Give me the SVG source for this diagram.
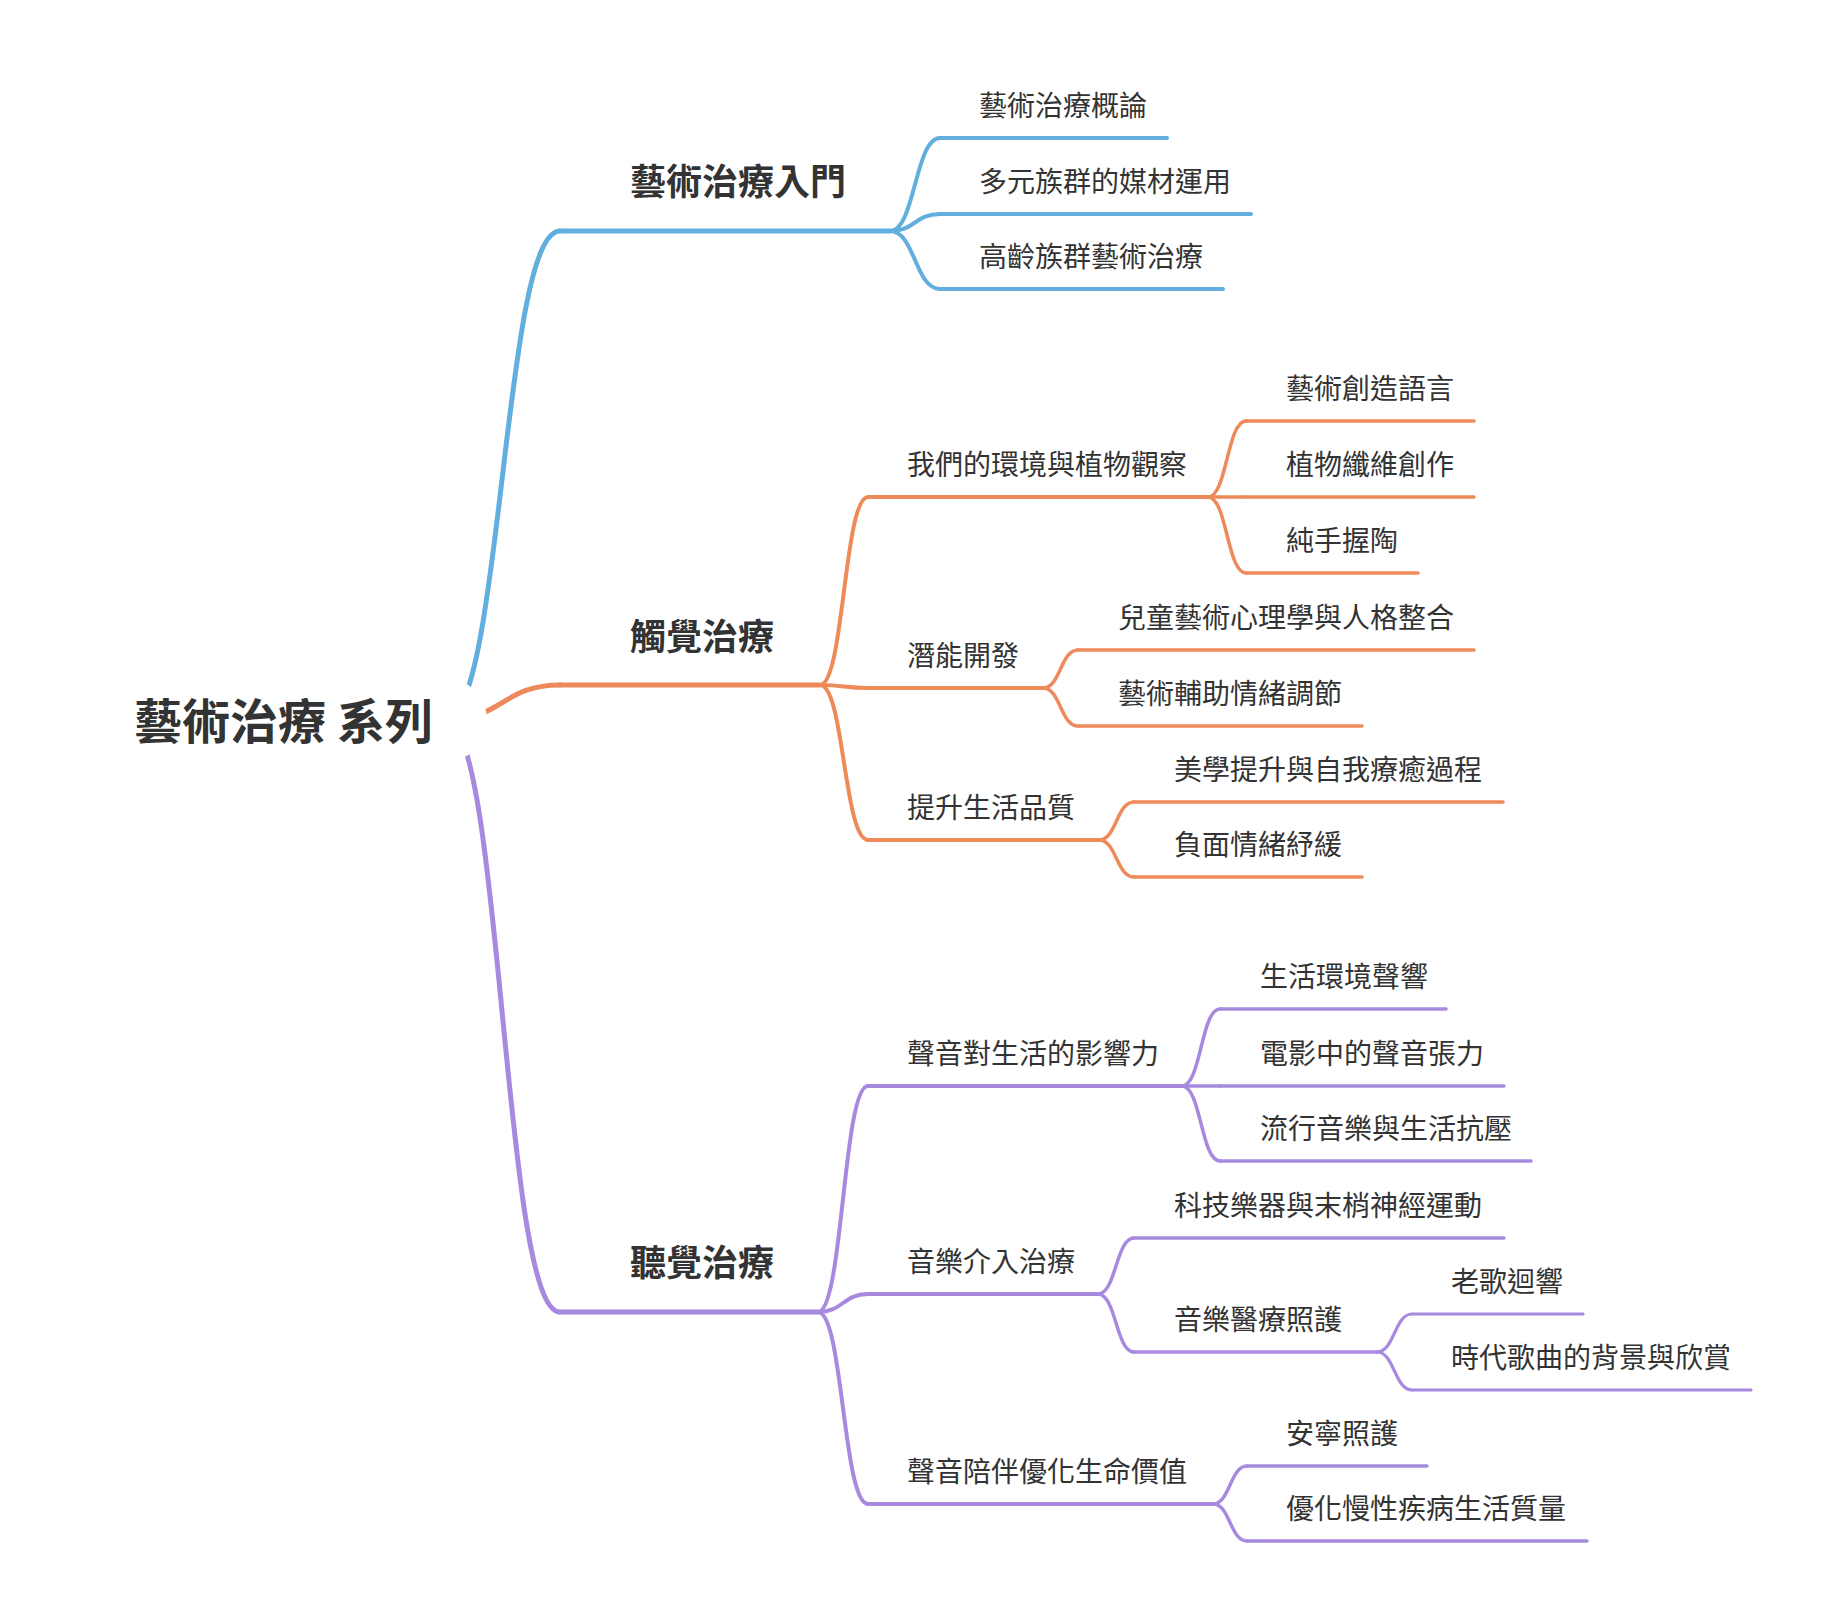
<svg xmlns="http://www.w3.org/2000/svg" width="1830" height="1620" viewBox="0 0 1830 1620">
<style>
  .lnk{fill:none;stroke-linecap:round;stroke-linejoin:round}
  .b{stroke:#62AEDF}
  .o{stroke:#EE8A5A}
  .p{stroke:#A78AE0}
  .w1{stroke-width:5}
  .w2{stroke-width:4}
  .w3{stroke-width:3.5}
  .w4{stroke-width:3.2}
  text{font-family:"Noto Sans CJK TC","Noto Sans CJK SC",sans-serif;fill:#333333}
  .t0{font-size:48px;font-weight:700}
  .t1{font-size:36px;font-weight:700}
  .t2{font-size:28px;font-weight:400}
</style>
<defs>
  <clipPath id="rootclip">
    <path clip-rule="evenodd" d="M0,0H1830V1620H0Z M403,720a42,42 0 1,0 84,0a42,42 0 1,0 -84,0Z"/>
  </clipPath>
</defs>
<rect width="1830" height="1620" fill="#ffffff"/>
<g id="connectors">
  <g clip-path="url(#rootclip)">
    <path class="lnk b w1" d="M445,720 C502.5,720 502.5,231 560,231"/>
    <path class="lnk o w1" d="M445,720 C502.5,720 502.5,685 560,685"/>
    <path class="lnk p w1" d="M445,720 C502.5,720 502.5,1312 560,1312"/>
  </g>
  <path class="lnk b w2" d="M890,231 C915,231 915,138 940,138"/>
  <path class="lnk b w2" d="M890,231 C915,231 915,214 940,214"/>
  <path class="lnk b w2" d="M890,231 C915,231 915,289 940,289"/>
  <path class="lnk o w2" d="M820,685 C844,685 844,497 868,497"/>
  <path class="lnk o w2" d="M820,685 C844,685 844,688 868,688"/>
  <path class="lnk o w2" d="M820,685 C844,685 844,840 868,840"/>
  <path class="lnk o w3" d="M1208,497 C1227,497 1227,421 1246,421"/>
  <path class="lnk o w3" d="M1208,497 L1246,497"/>
  <path class="lnk o w3" d="M1208,497 C1227,497 1227,573 1246,573"/>
  <path class="lnk o w3" d="M1043,688 C1060.5,688 1060.5,650 1078,650"/>
  <path class="lnk o w3" d="M1043,688 C1060.5,688 1060.5,726 1078,726"/>
  <path class="lnk o w3" d="M1099,840 C1116.5,840 1116.5,802 1134,802"/>
  <path class="lnk o w3" d="M1099,840 C1116.5,840 1116.5,877 1134,877"/>
  <path class="lnk p w2" d="M818,1312 C843,1312 843,1086 868,1086"/>
  <path class="lnk p w2" d="M818,1312 C843,1312 843,1294 868,1294"/>
  <path class="lnk p w2" d="M818,1312 C843,1312 843,1504 868,1504"/>
  <path class="lnk p w3" d="M1182,1086 C1201,1086 1201,1009 1220,1009"/>
  <path class="lnk p w3" d="M1182,1086 L1220,1086"/>
  <path class="lnk p w3" d="M1182,1086 C1201,1086 1201,1161 1220,1161"/>
  <path class="lnk p w3" d="M1098,1294 C1116,1294 1116,1238 1134,1238"/>
  <path class="lnk p w3" d="M1098,1294 C1116,1294 1116,1352 1134,1352"/>
  <path class="lnk p w4" d="M1377,1352 C1394.5,1352 1394.5,1314 1412,1314"/>
  <path class="lnk p w4" d="M1377,1352 C1394.5,1352 1394.5,1390 1412,1390"/>
  <path class="lnk p w3" d="M1213,1504 C1230,1504 1230,1466 1247,1466"/>
  <path class="lnk p w3" d="M1213,1504 C1230,1504 1230,1541 1247,1541"/>
</g>
<g id="root"><text class="t0" x="134" y="739">藝術治療 系列</text></g>

<g id="n-intro"><path class="lnk b w1" d="M560,231H890"/><text class="t1" x="630" y="195">藝術治療入門</text></g>
<g id="n-intro-1"><path class="lnk b w2" d="M940,138H1167"/><text class="t2" x="979" y="116">藝術治療概論</text></g>
<g id="n-intro-2"><path class="lnk b w2" d="M940,214H1251"/><text class="t2" x="979" y="192">多元族群的媒材運用</text></g>
<g id="n-intro-3"><path class="lnk b w2" d="M940,289H1223"/><text class="t2" x="979" y="267">高齡族群藝術治療</text></g>

<g id="n-touch"><path class="lnk o w1" d="M560,685H820"/><text class="t1" x="630" y="650">觸覺治療</text></g>
<g id="n-touch-1"><path class="lnk o w2" d="M868,497H1208"/><text class="t2" x="907" y="475">我們的環境與植物觀察</text></g>
<g id="n-touch-1-1"><path class="lnk o w3" d="M1246,421H1474"/><text class="t2" x="1286" y="399">藝術創造語言</text></g>
<g id="n-touch-1-2"><path class="lnk o w3" d="M1246,497H1474"/><text class="t2" x="1286" y="475">植物纖維創作</text></g>
<g id="n-touch-1-3"><path class="lnk o w3" d="M1246,573H1418"/><text class="t2" x="1286" y="551">純手握陶</text></g>
<g id="n-touch-2"><path class="lnk o w2" d="M868,688H1043"/><text class="t2" x="907" y="666">潛能開發</text></g>
<g id="n-touch-2-1"><path class="lnk o w3" d="M1078,650H1474"/><text class="t2" x="1118" y="628">兒童藝術心理學與人格整合</text></g>
<g id="n-touch-2-2"><path class="lnk o w3" d="M1078,726H1362"/><text class="t2" x="1118" y="704">藝術輔助情緒調節</text></g>
<g id="n-touch-3"><path class="lnk o w2" d="M868,840H1099"/><text class="t2" x="907" y="818">提升生活品質</text></g>
<g id="n-touch-3-1"><path class="lnk o w3" d="M1134,802H1503"/><text class="t2" x="1174" y="780">美學提升與自我療癒過程</text></g>
<g id="n-touch-3-2"><path class="lnk o w3" d="M1134,877H1362"/><text class="t2" x="1174" y="855">負面情緒紓緩</text></g>

<g id="n-hear"><path class="lnk p w1" d="M560,1312H818"/><text class="t1" x="630" y="1276">聽覺治療</text></g>
<g id="n-hear-1"><path class="lnk p w2" d="M868,1086H1182"/><text class="t2" x="907" y="1064">聲音對生活的影響力</text></g>
<g id="n-hear-1-1"><path class="lnk p w3" d="M1220,1009H1446"/><text class="t2" x="1260" y="987">生活環境聲響</text></g>
<g id="n-hear-1-2"><path class="lnk p w3" d="M1220,1086H1504"/><text class="t2" x="1260" y="1064">電影中的聲音張力</text></g>
<g id="n-hear-1-3"><path class="lnk p w3" d="M1220,1161H1531"/><text class="t2" x="1260" y="1139">流行音樂與生活抗壓</text></g>
<g id="n-hear-2"><path class="lnk p w2" d="M868,1294H1098"/><text class="t2" x="907" y="1272">音樂介入治療</text></g>
<g id="n-hear-2-1"><path class="lnk p w3" d="M1134,1238H1504"/><text class="t2" x="1174" y="1216">科技樂器與末梢神經運動</text></g>
<g id="n-hear-2-2"><path class="lnk p w3" d="M1134,1352H1377"/><text class="t2" x="1174" y="1330">音樂醫療照護</text></g>
<g id="n-hear-2-2-1"><path class="lnk p w4" d="M1412,1314H1583"/><text class="t2" x="1451" y="1292">老歌迴響</text></g>
<g id="n-hear-2-2-2"><path class="lnk p w4" d="M1412,1390H1751"/><text class="t2" x="1451" y="1368">時代歌曲的背景與欣賞</text></g>
<g id="n-hear-3"><path class="lnk p w2" d="M868,1504H1213"/><text class="t2" x="907" y="1482">聲音陪伴優化生命價值</text></g>
<g id="n-hear-3-1"><path class="lnk p w3" d="M1247,1466H1427"/><text class="t2" x="1286" y="1444">安寧照護</text></g>
<g id="n-hear-3-2"><path class="lnk p w3" d="M1247,1541H1587"/><text class="t2" x="1286" y="1519">優化慢性疾病生活質量</text></g>
</svg>
